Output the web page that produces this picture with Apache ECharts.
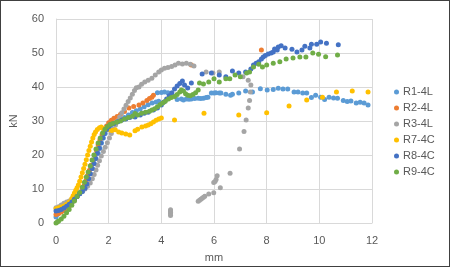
<!DOCTYPE html>
<html>
<head>
<meta charset="utf-8">
<script src="https://cdn.jsdelivr.net/npm/echarts@6/dist/echarts.min.js"></script>
<style>
  html, body { margin: 0; padding: 0; background: #fff; }
  #chart { position: absolute; left: 0; top: 0; width: 451px; height: 268px; }
  #frame { position: absolute; left: 0; top: 0; width: 448px; height: 265px; border: 1.5px solid #404040; pointer-events: none; }
</style>
</head>
<body>
<div id="chart"></div>
<div id="frame"></div>
<script>
  // series names, as in the legend
  const names = ['R1-4L', 'R2-4L', 'R3-4L', 'R7-4C', 'R8-4C', 'R9-4C'];
  const colors = ['#5B9BD5', '#ED7D31', '#A5A5A5', '#FFC000', '#4472C4', '#70AD47'];

  // [mm, kN]
  const r1 = [[0,1.8],[0.05,2.5],[0.1,3],[0.2,3.5],[0.3,4],[0.4,4.5],[0.5,5.2],[0.6,6],[0.7,7],[0.8,7.8],[0.9,8.6],[1.0,9.4],
    [1.08,10.2],[1.15,11.5],[1.22,13],[1.3,14.5],[1.38,16],[1.45,17.5],[1.52,19],[1.6,20.5],[1.67,22],[1.73,23.5],[1.8,25],
    [1.87,26.3],[1.95,27.5],[2.05,28.5],[2.15,29.2],[2.3,29.8],[2.45,30.5],[2.6,31],[2.75,31.8],[2.9,32.5],[3.05,33],[3.2,33.5],
    [3.35,34.2],[3.5,34.8],[3.65,35.3],[3.8,35.6],[3.9,35.8],[3.85,38.3],[4.0,38.4],[4.12,38.5],[4.25,38.3],[4.39,38.2],
    [4.6,36.3],[4.76,36.5],[4.84,36.2],[4.95,36.5],[5.05,36.4],[5.14,36.5],[5.27,36.6],[5.4,36.7],[5.5,36.6],[5.6,36.7],
    [5.7,36.9],[5.77,37],[5.9,38.2],[6.0,38.2],[6.07,38.3],[6.2,38.2],[6.26,38.2],[6.45,37.9],[6.63,37.6],[6.7,37.9],
    [6.94,38.2],[7.2,38.8],[7.46,38.5],[7.76,39.5],[8.02,39.1],[8.25,39.3],[8.44,39.6],[8.62,39.4],[8.8,39.4],[9.04,38.5],
    [9.19,38.5],[9.37,38.2],[9.52,38.2],[9.7,36.9],[9.86,37.6],[10.05,37],[10.2,36.3],[10.37,37],[10.54,36.8],[10.69,36.7],
    [10.91,36],[11.06,35.7],[11.2,35.9],[11.4,35.3],[11.55,35.5],[11.7,35.3],[11.85,34.7]];

  const r2 = [[0,2.5],[0.1,2.8],[0.2,3.2],[0.3,3.7],[0.4,4.3],[0.5,5],[0.6,5.8],[0.7,6.8],[0.8,7.8],[0.9,8.8],[1.0,9.8],
    [1.07,11],[1.14,12.5],[1.2,14],[1.27,15.5],[1.33,17],[1.4,18.5],[1.47,20],[1.53,21.5],[1.6,23],[1.67,24.5],[1.75,26],
    [1.83,27.3],[1.92,28.5],[2.0,29.5],[2.1,30.2],[2.2,30.8],[2.32,31.3],[2.45,32],[2.6,32.8],[2.77,33.8],[2.95,34.3],
    [3.15,34.7],[3.3,35.3],[3.45,36],[3.55,36.6],[3.64,37],[3.7,37.6],[5.14,46.5],[7.8,50.9]];

  const r3 = [[0,4.5],[0.1,4.8],[0.2,5.3],[0.3,5.8],[0.4,6.2],[0.5,6.5],[0.6,6.9],[0.7,7.4],[0.8,8],[0.9,8.7],[1.0,9.3],
    [1.1,10],[1.2,10.8],[1.3,11.8],[1.38,13],[1.45,14.3],[1.52,15.6],[1.58,17],[1.65,18.3],[1.72,19.7],[1.8,21],[1.87,22.3],
    [1.95,23.6],[2.03,25],[2.1,26.3],[2.18,27.6],[2.26,28.8],[2.34,30],[2.42,31.2],[2.5,32.4],[2.58,33.5],[2.66,34.6],
    [2.74,35.7],[2.82,36.8],[2.9,37.9],[2.98,39],[3.05,39.8],[3.15,40],[3.25,40.8],[3.37,41.5],[3.5,42],[3.64,42.6],
    [3.77,43.5],[3.9,44.4],[4.0,45],[4.12,45.5],[4.25,45.7],[4.39,46],[4.52,46.5],[4.65,47],[4.8,46.8],[4.95,47],[5.1,46.7],
    [5.24,46.2],[5.7,44.4],[5.96,44.1],[6.2,44.4],[7.1,43],[7.3,42],[7.4,40.6],[7.38,38.5],[7.35,36],[7.3,33.8],[7.22,30.3],
    [7.14,26.9],[6.97,21.8],[6.61,14.6],[6.24,10.4],[6.12,13.9],[6.08,12.8],[6.04,12.2],[5.99,11.9],[5.99,8.9],[5.8,8.5],
    [5.65,7.9],[5.6,7.6],[5.55,7.3],[5.5,7],[5.45,6.7],[5.4,6.4],[4.35,2.2],[4.35,2.7],[4.35,3.1],[4.35,3.5],[4.35,3.9]];

  const r7 = [[0,4.2],[0.05,4.3],[0.1,4.5],[0.2,4.7],[0.3,5],[0.4,5.5],[0.5,6.2],[0.6,7.2],[0.65,8],[0.7,8.8],[0.75,9.6],
    [0.8,10.4],[0.85,11.2],[0.9,12.3],[0.95,13.5],[1.0,14.8],[1.05,16],[1.1,17.3],[1.15,18.6],[1.2,20],[1.25,21.3],[1.3,22.6],
    [1.35,23.8],[1.4,25],[1.45,26],[1.5,26.8],[1.57,27.5],[1.65,28],[1.72,28.2],[1.8,27.8],[1.9,27.6],[2.0,27.5],[2.12,27.2],
    [2.25,27.4],[2.38,26.8],[2.5,26.5],[2.65,26.2],[2.8,25.9],[3.0,27.1],[3.1,27.6],[3.26,28.2],[3.4,28.5],[3.5,28.8],
    [3.6,29.2],[3.7,29.7],[3.8,30.2],[3.9,30.6],[4.0,30.9],[4.5,30.3],[5.62,32.3],[6.94,31.8],[8.0,32.4],[8.85,34.4],
    [9.52,36.2],[10.12,37],[10.65,38.5],[11.25,38.8],[11.85,38.5]];

  const r8 = [[0,3.5],[0.1,3.7],[0.2,4],[0.3,4.4],[0.4,4.9],[0.5,5.5],[0.6,6.2],[0.7,7],[0.8,7.8],[0.9,8.6],[1.0,9.3],
    [1.1,10.2],[1.17,11.5],[1.24,13],[1.3,14.5],[1.37,16],[1.44,17.5],[1.5,19],[1.57,20.5],[1.64,22],[1.7,23.5],[1.77,25],
    [1.84,26.3],[1.92,27.5],[2.0,28.3],[2.1,29],[2.2,29.3],[2.35,29.8],[2.5,30.3],[2.65,30.6],[2.8,31],[3.0,31.2],[3.2,31.8],
    [3.35,32.3],[3.5,32.6],[3.7,33.2],[3.85,33.8],[4.0,34.7],[4.1,35.6],[4.2,36.5],[4.3,37.4],[4.4,38.2],[4.5,39.4],
    [4.6,40.3],[4.7,41],[4.8,41.8],[4.88,40.6],[5.0,39.7],[5.14,41.2],[5.55,43.8],[5.9,44.1],[6.2,43.5],[6.45,43],
    [6.7,44.7],[6.94,44.1],[7.2,44.4],[7.4,45.3],[7.5,46.5],[7.6,47],[7.7,47.4],[7.8,48.2],[7.87,48.8],[7.95,49.3],
    [8.06,49.7],[8.17,50],[8.25,50.3],[8.3,51.2],[8.4,50.9],[8.44,51.8],[8.55,52.1],[8.7,51.5],[8.96,51.1],[9.15,50.3],
    [9.34,50.9],[9.45,52],[9.64,51.5],[9.7,52.6],[9.9,52.6],[10.05,53.2],[10.27,52.9],[10.72,52.4]];

  const r9 = [[0,0],[0.05,0.3],[0.1,0.6],[0.2,1.2],[0.3,2],[0.4,3],[0.5,4],[0.6,5.2],[0.7,6.5],[0.8,7.8],[0.9,9],[1.0,10.5],
    [1.08,12],[1.15,13.5],[1.22,15],[1.3,16.8],[1.37,18.5],[1.44,20],[1.52,21.8],[1.6,23.5],[1.68,25],[1.77,26.5],[1.86,27.6],
    [1.95,28.4],[2.05,29],[2.15,29.3],[2.3,29.6],[2.45,30],[2.6,30.6],[2.75,31],[2.9,31.4],[3.0,32.2],[3.1,31.8],[3.25,32.3],
    [3.4,32.6],[3.55,32.9],[3.64,33.2],[3.75,33.6],[3.85,34.2],[3.95,34.8],[4.05,35.3],[4.15,35.8],[4.27,36.5],[4.38,36.9],
    [4.5,37.2],[4.6,37.8],[4.7,38.5],[4.76,39.1],[4.84,38.8],[4.92,38],[5.0,37.6],[5.1,37.4],[5.2,37.8],[5.3,38.3],[5.4,39.1],
    [5.45,41.2],[5.6,40.9],[5.8,41.5],[6.0,42.4],[6.2,41.5],[6.45,42.4],[6.6,42.4],[6.8,43.5],[7.0,43],[7.24,44.1],[7.35,44.4],
    [7.5,45.9],[7.7,46.7],[7.84,45.9],[8.0,46.5],[8.25,47],[8.5,47.4],[8.74,48.2],[9.0,48.5],[9.26,48.8],[9.49,48.8],
    [9.75,50],[9.97,49.6],[10.24,48.9],[10.69,49.4]];

  const allData = [r1, r2, r3, r7, r8, r9];

  const font = 'Liberation Sans';
  const txt = '#595959';
  const gridColor = '#D9D9D9';

  const chart = echarts.init(document.getElementById('chart'));
  chart.setOption({
    animation: false,
    textStyle: { fontFamily: font },
    grid: { left: 53, right: 79, top: 19, bottom: 45 },
    legend: {
      orient: 'vertical',
      left: 389,
      top: 80,
      icon: 'circle',
      itemWidth: 5,
      itemHeight: 5,
      itemGap: 2,
      textStyle: { color: txt, fontSize: 11, lineHeight: 14, fontFamily: font, padding: [0, 0, 0, -1] },
      data: names
    },
    xAxis: {
      type: 'value',
      min: 0, max: 12, interval: 2,
      name: 'mm',
      nameLocation: 'middle',
      nameGap: 29,
      nameTextStyle: { color: txt, fontSize: 11, fontFamily: font },
      axisLine: { show: true, lineStyle: { color: gridColor } },
      axisTick: { show: false },
      axisLabel: { color: txt, fontSize: 11, margin: 12, fontFamily: font },
      splitLine: { show: true, lineStyle: { color: gridColor, width: 1 } }
    },
    yAxis: {
      type: 'value',
      min: 0, max: 60, interval: 10,
      name: 'kN',
      nameLocation: 'middle',
      nameGap: 37,
      nameRotate: 90,
      nameTextStyle: { color: txt, fontSize: 11, fontFamily: font },
      axisLine: { show: true, lineStyle: { color: gridColor } },
      axisTick: { show: false },
      axisLabel: { color: txt, fontSize: 11, margin: 12, fontFamily: font },
      splitLine: { show: true, lineStyle: { color: gridColor, width: 1 } }
    },
    series: names.map(function (n, i) {
      return {
        name: n,
        type: 'scatter',
        symbol: 'circle',
        symbolSize: 5,
        itemStyle: { color: colors[i], opacity: 1 },
        data: allData[i]
      };
    })
  });
</script>
</body>
</html>
